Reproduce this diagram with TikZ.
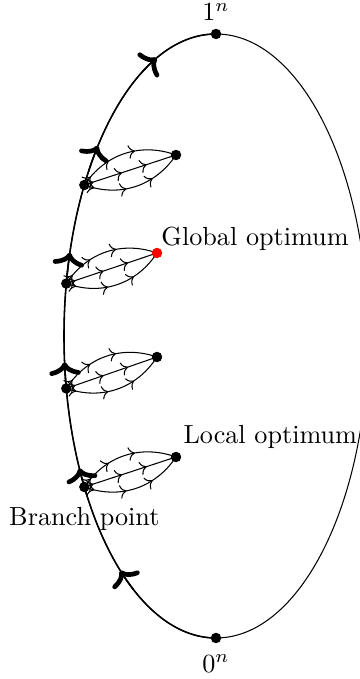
\documentclass[tikz,border=0pt]{standalone}
\usepackage{amsmath,amssymb}
\usetikzlibrary{arrows.meta, positioning, decorations.markings, calc}

\tikzset{
  dot/.style={circle, fill=black, inner sep=0pt, minimum size=4pt},
  bigtip/.style={semithick, line cap=round, -{Computer Modern Rightarrow[length=5pt, width=12pt, line width=1.8pt]}},
  fanup/.style={postaction={decorate}, decoration={markings,
      mark=at position 0.1 with {\arrow{>}},
      mark=at position 0.33 with {\arrow{>}},
      mark=at position 0.6 with {\arrow{>}}}},
  fanmid/.style={postaction={decorate}, decoration={markings,
      mark=at position 0.1 with {\arrow{>}},
      mark=at position 0.41 with {\arrow{>}},
      mark=at position 0.68 with {\arrow{>}}}},
}

\begin{document}
\begin{tikzpicture}[x=0.382pt, y=0.382pt]
\useasboundingbox (0,0) rectangle (359,679);

% the search space
\coordinate (c) at (216,343);
\draw (c) ellipse [x radius=152, y radius=302];
\draw[semithick] (216,41) arc [start angle=270, end angle=90, x radius=152, y radius=302];
\foreach \t in {231,206,185,164,141,113}
  \draw[bigtip] ([shift={(\t+6:152 and 302)}]c) arc [start angle=\t+6, end angle=\t, x radius=152, y radius=302];

% branch points and optima
\foreach \t [count=\i] in {210,190,170,150}
  \coordinate (b\i) at ([shift={(\t:152 and 302)}]c);
\coordinate (e1) at (176,222);
\coordinate (e2) at (157,322);
\coordinate (e3) at (157,426);
\coordinate (e4) at (176,524);

\foreach \i in {1,...,4} {
  \draw[fanup] (b\i) to[bend left=38] (e\i);
  \draw[fanmid] (b\i) -- (e\i);
  \draw[fanmid] (b\i) to[bend right=38] (e\i);
}

\foreach \i in {1,...,4}
  \node[dot] (br\i) at (b\i) {};
\node[dot] (opt1) at (e1) {};
\node[dot] (opt2) at (e2) {};
\node[dot, fill=red] (opt3) at (e3) {};
\node[dot] (opt4) at (e4) {};
\node[dot] (top) at (216,645) {};
\node[dot] (bot) at (216,41) {};

% labels
\node[anchor=base, inner sep=0pt] (toplabel) at ([yshift=5pt]top) {$1^n$};
\node[anchor=base, inner sep=0pt] (botlabel) at ([yshift=-13pt]bot) {$0^n$};
\node[anchor=base west, inner sep=0pt] (glob) at ([shift={(1.5pt,3pt)}]opt3) {Global optimum};
\node[anchor=base west, inner sep=0pt] (loc) at ([shift={(2.7pt,5pt)}]opt1) {Local optimum};
\node[anchor=base, inner sep=0pt] (brlabel) at ([yshift=-14.6pt]br1) {Branch point};
\end{tikzpicture}
\end{document}
